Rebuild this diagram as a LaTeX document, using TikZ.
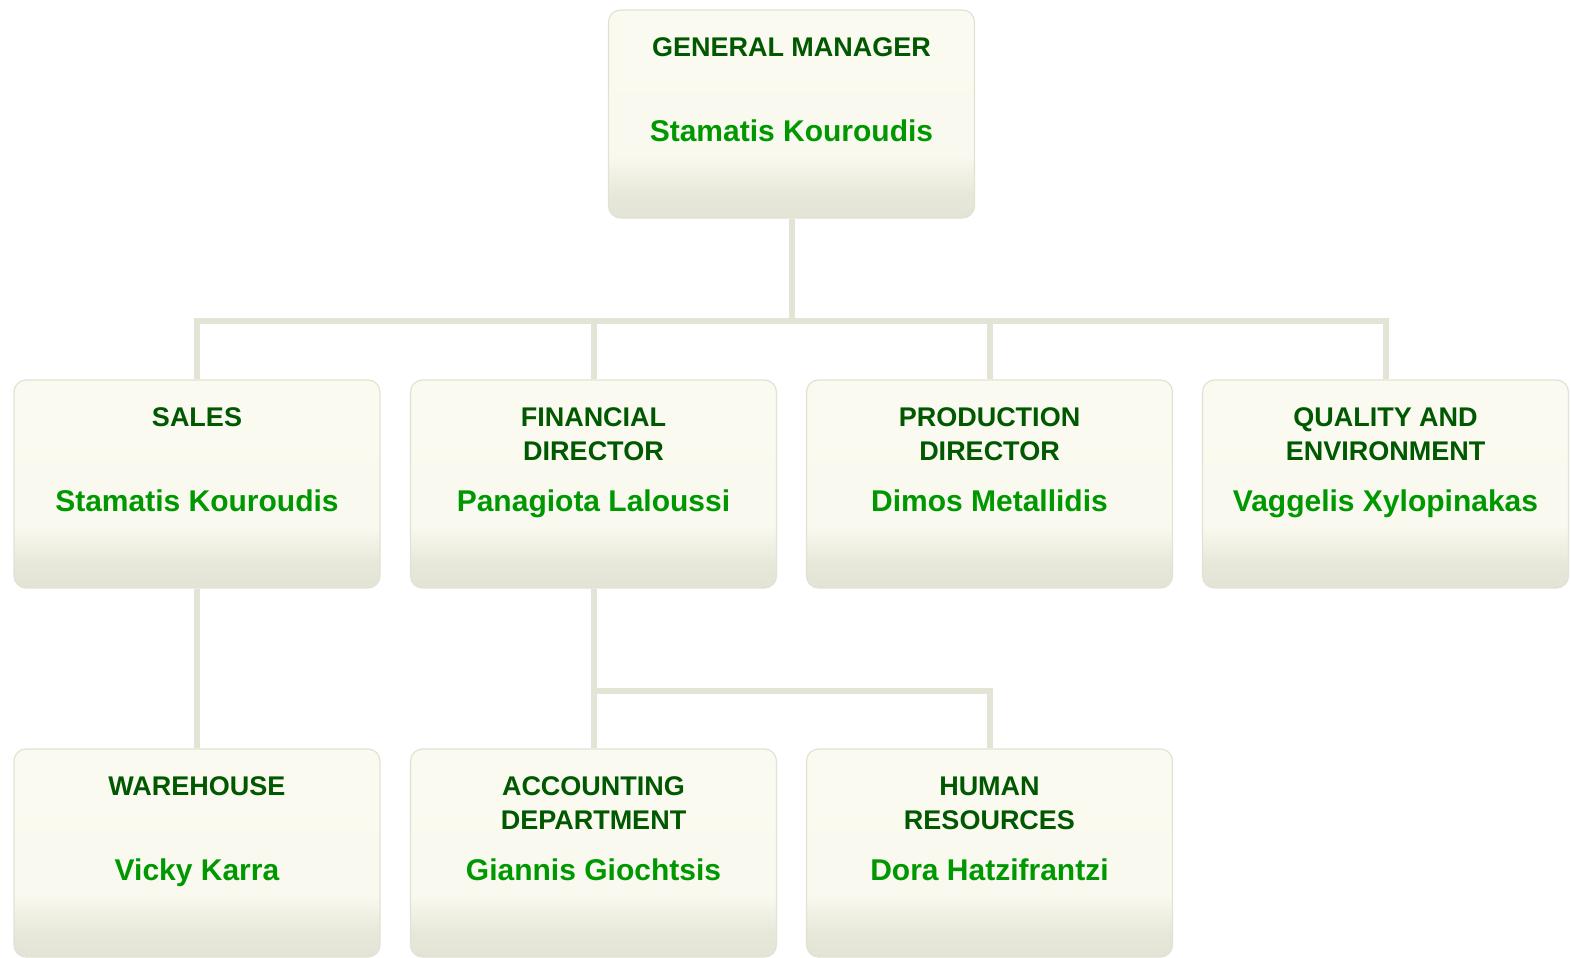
\documentclass[tikz,border=0pt]{standalone}
\usepackage{fontspec}
\setmainfont{Liberation Sans}
\usetikzlibrary{positioning}

\definecolor{unittop}{RGB}{250,250,240}
\definecolor{unitbot}{RGB}{228,228,214}
\definecolor{unitline}{RGB}{226,226,212}
\definecolor{linkcol}{RGB}{228,228,214}
\definecolor{titlecol}{RGB}{0,88,0}
\definecolor{namecol}{RGB}{0,152,0}

\pgfdeclareverticalshading{unitshade}{100bp}{color(0bp)=(unitbot); color(25bp)=(unitbot); color(31bp)=(unitbot!85!unittop); color(40bp)=(unittop!96!unitbot); color(75bp)=(unittop); color(100bp)=(unittop)}

\tikzset{
  unit/.style={draw=unitline, line width=0.6pt, rounded corners=6pt, shading=unitshade,
    minimum width=183pt, minimum height=104pt, inner sep=0pt},
  title/.style={anchor=north, inner sep=0pt, align=center, text=titlecol,
    font=\fontsize{13.5pt}{17pt}\selectfont\bfseries},
  person/.style={anchor=base, inner sep=0pt, text=namecol,
    font=\fontsize{15pt}{18pt}\selectfont\bfseries},
  link/.style={draw=linkcol, line width=3pt}
}

\begin{document}
\begin{tikzpicture}[x=0.5pt, y=-0.5pt]
    \useasboundingbox (0,0) rectangle (1571,958);

    % Draw nodes
    \foreach \n/\x/\y/\t/\p in {
        gm/791.5/114/{GENERAL MANAGER}/{Stamatis Kouroudis},
        sales/197/484/{SALES}/{Stamatis Kouroudis},
        fin/593.5/484/{FINANCIAL\\DIRECTOR}/{Panagiota Laloussi},
        prod/989.5/484/{PRODUCTION\\DIRECTOR}/{Dimos Metallidis},
        qual/1385.5/484/{QUALITY AND\\ENVIRONMENT}/{Vaggelis Xylopinakas},
        ware/197/853/{WAREHOUSE}/{Vicky Karra},
        acc/593.5/853/{ACCOUNTING\\DEPARTMENT}/{Giannis Giochtsis},
        hr/989.5/853/{HUMAN\\RESOURCES}/{Dora Hatzifrantzi}} {
        \node[unit] (\n) at (\x,\y) {};
        \node[title] (\n-t) at ([yshift=-14pt]\n.north) {\t};
        \node[person] (\n-p) at ([yshift=-66pt]\n.north) {\p};
    }

    % Draw edges
    \draw[link] (gm.south) -- ++(0,102) -| (sales.north);
    \draw[link] (gm.south) -- ++(0,102) -| (fin.north);
    \draw[link] (gm.south) -- ++(0,102) -| (prod.north);
    \draw[link] (gm.south) -- ++(0,102) -| (qual.north);
    \draw[link] (sales.south) -- (ware.north);
    \draw[link] (fin.south) -- (acc.north);
    \draw[link] (fin.south) -- ++(0,102) -| (hr.north);
\end{tikzpicture}
\end{document}
